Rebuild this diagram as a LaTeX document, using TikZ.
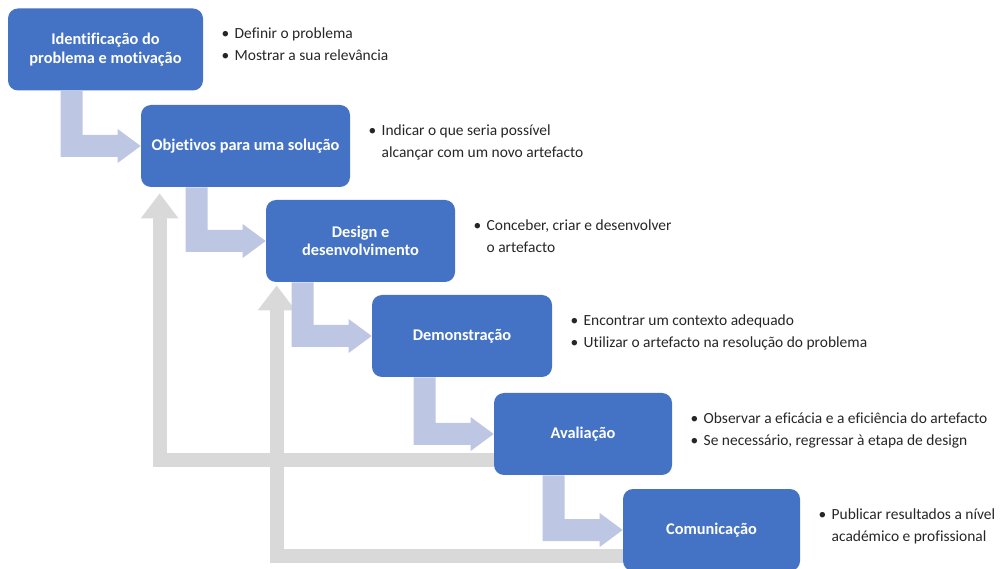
\documentclass[tikz,border=0pt]{standalone}
\usepackage{fontspec}
\setmainfont{Carlito}[Ligatures=NoCommon]
\usetikzlibrary{calc,arrows.meta,backgrounds}
\definecolor{stageblue}{HTML}{4472C4}
\definecolor{fwdblue}{HTML}{BDC7E3}
\definecolor{backgray}{HTML}{D9D9D9}

\begin{document}
\begin{tikzpicture}[stage/.style = {fill=stageblue, rounded corners=0.2cm, text=white, align=center,
                                    font=\bfseries\fontsize{9.3}{10.5}\selectfont, minimum height=1.64cm, inner sep=0pt},
                    note/.style = {anchor=west, xshift=0.36cm, yshift=0.08cm, inner sep=0pt,
                                   font=\fontsize{8.8}{12.5}\selectfont, text=black!85},
                    fwd/.style = {fill=fwdblue},
                    back/.style = {draw=backgray, line width=0.28cm, -{Triangle[width=0.72cm,length=0.5cm]}}]
      \useasboundingbox (0,0) rectangle (20,-11.38);

      % stages
      \node [stage, minimum width=3.9cm] (ident) at (2.11,-0.99) {Identificação do\\problema e motivação};
      \node [stage, minimum width=4.18cm] (obj) at (4.91,-2.92) {Objetivos para uma solução};
      \node [stage, minimum width=3.78cm] (des) at (7.21,-4.82) {Design e\\desenvolvimento};
      \node [stage, minimum width=3.6cm] (dem) at (9.24,-6.72) {Demonstração};
      \node [stage, minimum width=3.56cm] (aval) at (11.66,-8.68) {Avaliação};
      \node [stage, minimum width=3.54cm] (com) at (14.23,-10.6) {Comunicação};

      \begin{scope}[on background layer]
        % feedback
        \draw [back] ($(aval.west)+(0,-0.52)$) -| ($(obj.south west)+(0.38,-0.12)$);
        \draw [back] ($(com.west)+(0,-0.52)$) -| ($(des.south west)+(0.22,-0.06)$);

        % forward steps
        \foreach \s/\t in {ident/obj, obj/des, des/dem, dem/aval, aval/com}
                 {
                   \fill [fwd] ($(\s.south -| \t.west)+(-1.6,0)$) -- ++(0.44,0) |- ($(\t.west)+(-0.46,0.22)$)
                     -- ++(0,0.12) -- (\t.west) -- ++(-0.46,-0.34) -- ++(0,0.12) -- ++(-1.14,0) -- cycle;
                 }
      \end{scope}

      % notes
      \node [note] (identtxt) at (ident.east) {\begin{tabular}{@{}l@{\hspace{3pt}}l@{}}
          \textbullet & Definir o problema\\ \textbullet & Mostrar a sua relevância\end{tabular}};
      \node [note] (objtxt) at (obj.east) {\begin{tabular}{@{}l@{\hspace{3pt}}l@{}}
          \textbullet & Indicar o que seria possível\\ & alcançar com um novo artefacto\end{tabular}};
      \node [note] (destxt) at (des.east) {\begin{tabular}{@{}l@{\hspace{3pt}}l@{}}
          \textbullet & Conceber, criar e desenvolver\\ & o artefacto\end{tabular}};
      \node [note] (demtxt) at (dem.east) {\begin{tabular}{@{}l@{\hspace{3pt}}l@{}}
          \textbullet & Encontrar um contexto adequado\\ \textbullet & Utilizar o artefacto na resolução do problema\end{tabular}};
      \node [note] (avaltxt) at (aval.east) {\begin{tabular}{@{}l@{\hspace{3pt}}l@{}}
          \textbullet & Observar a eficácia e a eficiência do artefacto\\ \textbullet & Se necessário, regressar à etapa de design\end{tabular}};
      \node [note] (comtxt) at (com.east) {\begin{tabular}{@{}l@{\hspace{3pt}}l@{}}
          \textbullet & Publicar resultados a nível\\ & académico e profissional\end{tabular}};
    \end{tikzpicture}
\end{document}
